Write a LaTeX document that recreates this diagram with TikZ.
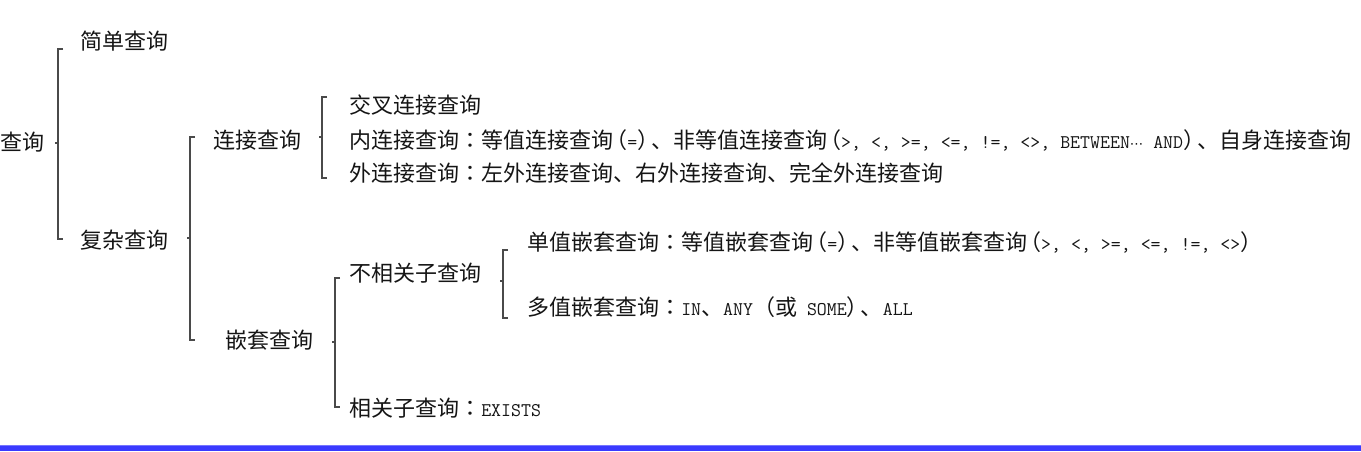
\documentclass[tikz,border=0pt]{standalone}
\usepackage{fontspec}
\setmainfont{Noto Sans CJK SC}
\newfontfamily\tcfont{Noto Sans CJK TC}
\newfontfamily\asc{Latin Modern Mono}
\newfontfamily\dvs{DejaVu Sans}
\newcommand\A[1]{{\asc\fontsize{14.5pt}{16pt}\selectfont #1}}
\newcommand\C{{\tcfont ：}}
\newcommand\LP{\kern-6pt（}
\newcommand\RP{）\kern-6pt}
\newcommand\ELL{{\dvs\fontsize{10pt}{12pt}\selectfont ⋯}}
\definecolor{txt}{HTML}{151515}
\definecolor{brc}{HTML}{4A4A4A}
\definecolor{barblue}{RGB}{58,58,255}
\newcommand\mybrk[4]{%
  \draw[brk] (#1+5,#2) -- (#1,#2) -- (#1,#3) -- (#1+5,#3);
  \draw[brk] (#1,#4) -- (#1-3,#4);}
\begin{document}
\begin{tikzpicture}[x=0.75pt,y=-0.75pt,
  lbl/.style={anchor=west,inner sep=0pt,text=txt,font=\fontsize{16.5pt}{18pt}\selectfont},
  brk/.style={draw=brc,line width=1.2pt}]
\useasboundingbox (0,0) rectangle (1361,451);
\fill[barblue!70!white] (0,444.8) rectangle (1361,445.8);
\fill[barblue] (0,445.8) rectangle (1361,451);
% nodes
\node[lbl] (q) at (0,142) {查询};
\node[lbl] (simple) at (80,41) {简单查询};
\node[lbl] (complex) at (80,240) {复杂查询};
\node[lbl] (join) at (213,140) {连接查询};
\node[lbl] (nest) at (225,340) {嵌套查询};
\node[lbl] (cross) at (349,105) {交叉连接查询};
\node[lbl] (inner) at (349,140) {内连接查询\C 等值连接查询\LP\A{=}\RP、非等值连接查询\LP\A{>, <, >=, <=, !=, <>, BETWEEN}\ELL\A{ AND}\RP、自身连接查询};
\node[lbl] (outer) at (349,173) {外连接查询\C 左外连接查询、右外连接查询、完全外连接查询};
\node[lbl] (uncor) at (349,273) {不相关子查询};
\node[lbl] (single) at (527,242) {单值嵌套查询\C 等值嵌套查询\LP\A{=}\RP、非等值嵌套查询\LP\A{>, <, >=, <=, !=, <>}\RP};
\node[lbl] (multi) at (527,307) {多值嵌套查询\C\A{IN}、\A{ANY}（或\A{ SOME}\RP、\A{ALL}};
\node[lbl] (cor) at (349,408) {相关子查询\C\A{EXISTS}};
% braces
\mybrk{58}{49}{239}{143}
\mybrk{190}{137}{340}{238}
\mybrk{322}{97}{178}{137}
\mybrk{335}{278}{407}{342}
\mybrk{503}{250}{318}{281}
\end{tikzpicture}
\end{document}
